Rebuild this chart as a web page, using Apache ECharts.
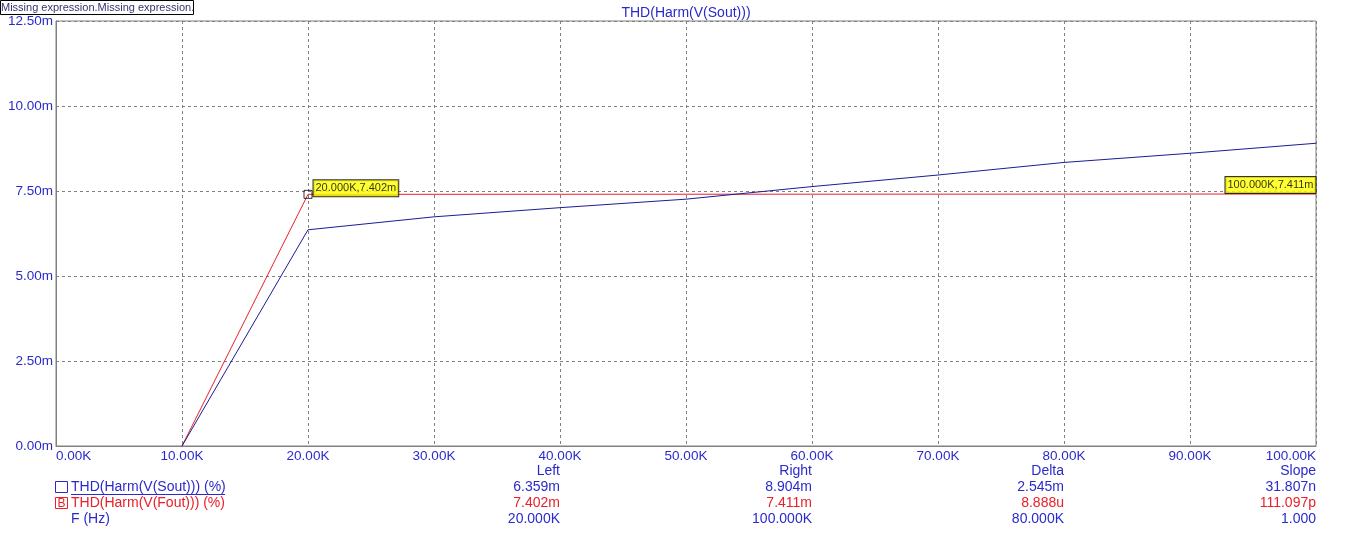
<!DOCTYPE html>
<html>
<head>
<meta charset="utf-8">
<script src="https://cdn.jsdelivr.net/npm/echarts@6/dist/echarts.min.js"></script>
<style>html,body{margin:0;padding:0;background:#fff;}#c{width:1353px;height:540px;}</style>
</head>
<body>
<div id="c"></div>
<script>
// Frequency in kHz
const freqK = [10, 20, 30, 40, 50, 60, 70, 80, 90, 100];
// THD values in milli-units
const soutTHD = [0, 6.359, 6.74, 7.01, 7.26, 7.63, 7.97, 8.34, 8.61, 8.904];
const foutTHD = [0, 7.402, 7.403, 7.404, 7.405, 7.406, 7.407, 7.408, 7.410, 7.411];
// Cursors
const cursorX = [20, 100];
const cursorY = [7.402, 7.411];
const cursorText = ['20.000K,7.402m', '100.000K,7.411m'];
// Measurement table
const tableHeaders = ['Left', 'Right', 'Delta', 'Slope'];
const soutRow = ['6.359m', '8.904m', '2.545m', '31.807n'];
const foutRow = ['7.402m', '7.411m', '8.888u', '111.097p'];
const freqRow = ['20.000K', '100.000K', '80.000K', '1.000'];
const legendNames = ['THD(Harm(V(Sout))) (%)', 'THD(Harm(V(Fout))) (%)', 'F (Hz)'];
const titleText = 'THD(Harm(V(Sout)))';
const noteText = 'Missing expression.Missing expression.';

const BLUE = '#2a2acc';
const LINEBLUE = '#1c1c96';
const RED = '#e8202a';
const FONT = '"Liberation Sans", Arial, sans-serif';

const chart = echarts.init(document.getElementById('c'), null, {renderer: 'canvas'});

const colX = [560, 812, 1064, 1316];
const rowY = [471, 487, 503, 519];
const graphics = [];
// top-left note box
graphics.push({type: 'rect', shape: {x: 0.5, y: 0.5, width: 193, height: 14}, style: {fill: '#fff', stroke: '#000', lineWidth: 1}});
graphics.push({type: 'text', x: 1, y: 8, style: {text: noteText, fill: '#33336e', font: '11px ' + FONT, verticalAlign: 'middle'}});
// title
graphics.push({type: 'text', x: 686, y: 13, style: {text: titleText, fill: BLUE, font: '14px ' + FONT, align: 'center', verticalAlign: 'middle'}});
// table
const rows = [tableHeaders, soutRow, foutRow, freqRow];
const rowColors = [BLUE, BLUE, RED, BLUE];
rows.forEach((r, ri) => {
  r.forEach((t, ci) => {
    graphics.push({type: 'text', x: colX[ci], y: rowY[ri], style: {text: t, fill: rowColors[ri], font: '14px ' + FONT, align: 'right', verticalAlign: 'middle'}});
  });
});
// legend
graphics.push({type: 'rect', shape: {x: 55.5, y: 481.5, width: 12, height: 11}, style: {fill: 'none', stroke: BLUE, lineWidth: 1}});
graphics.push({type: 'text', x: 71, y: rowY[1], style: {text: legendNames[0], fill: BLUE, font: '14px ' + FONT, verticalAlign: 'middle'}});
graphics.push({type: 'line', shape: {x1: 71, y1: 494.5, x2: 225, y2: 494.5}, style: {stroke: BLUE, lineWidth: 1}});
graphics.push({type: 'rect', shape: {x: 55.5, y: 497.5, width: 12, height: 11}, style: {fill: 'none', stroke: RED, lineWidth: 1}});
graphics.push({type: 'text', x: 61.5, y: 503.5, style: {text: 'B', fill: RED, font: '12px ' + FONT, align: 'center', verticalAlign: 'middle'}});
graphics.push({type: 'text', x: 71, y: rowY[2], style: {text: legendNames[1], fill: RED, font: '14px ' + FONT, verticalAlign: 'middle'}});
graphics.push({type: 'text', x: 71, y: rowY[3], style: {text: legendNames[2], fill: BLUE, font: '14px ' + FONT, verticalAlign: 'middle'}});

const labelBox = {
  show: true, backgroundColor: '#ffff00', borderColor: '#000', borderWidth: 1,
  padding: [2, 2, 2, 2], color: '#000', fontSize: 11, fontFamily: FONT, lineHeight: 12
};

chart.setOption({
  animation: false,
  backgroundColor: '#fff',
  textStyle: {fontFamily: FONT},
  grid: {left: 56, right: 37, top: 21, bottom: 94, show: true, borderColor: '#808080', borderWidth: 1, backgroundColor: 'transparent'},
  xAxis: {
    type: 'value', min: 0, max: 100, interval: 10,
    axisLine: {show: true, lineStyle: {color: '#808080'}},
    axisTick: {show: false},
    axisLabel: {color: BLUE, fontSize: 13.5, margin: 3, formatter: v => v.toFixed(2) + 'K', alignMinLabel: 'left', alignMaxLabel: 'right'},
    splitLine: {show: true, lineStyle: {color: '#808080', type: [3, 3], width: 1}}
  },
  yAxis: {
    type: 'value', min: 0, max: 12.5, interval: 2.5,
    axisLine: {show: true, lineStyle: {color: '#808080'}},
    axisTick: {show: false},
    axisLabel: {color: BLUE, fontSize: 13.5, margin: 3, formatter: v => v.toFixed(2) + 'm'},
    splitLine: {show: true, lineStyle: {color: '#808080', type: [3, 3], width: 1}}
  },
  series: [
    {type: 'line', data: freqK.map((f, i) => [f, soutTHD[i]]), showSymbol: false, lineStyle: {color: LINEBLUE, width: 1}, z: 3},
    {type: 'line', data: freqK.map((f, i) => [f, foutTHD[i]]), showSymbol: false, lineStyle: {color: RED, width: 1}, z: 2},
    {type: 'scatter', data: [[cursorX[0], cursorY[0]]], symbol: 'rect', symbolSize: 8,
      itemStyle: {color: 'rgba(0,0,0,0)', borderColor: '#000', borderWidth: 1}, z: 5,
      label: Object.assign({}, labelBox, {position: 'right', distance: 1, offset: [0, -6], formatter: () => cursorText[0]})},
    {type: 'scatter', data: [[cursorX[1], cursorY[1]]], symbol: 'rect', symbolSize: 1,
      itemStyle: {color: 'rgba(0,0,0,0)'}, z: 5,
      label: Object.assign({}, labelBox, {position: 'left', distance: 0, offset: [0, -9], formatter: () => cursorText[1]})}
  ],
  graphic: graphics
});
</script>
</body>
</html>
